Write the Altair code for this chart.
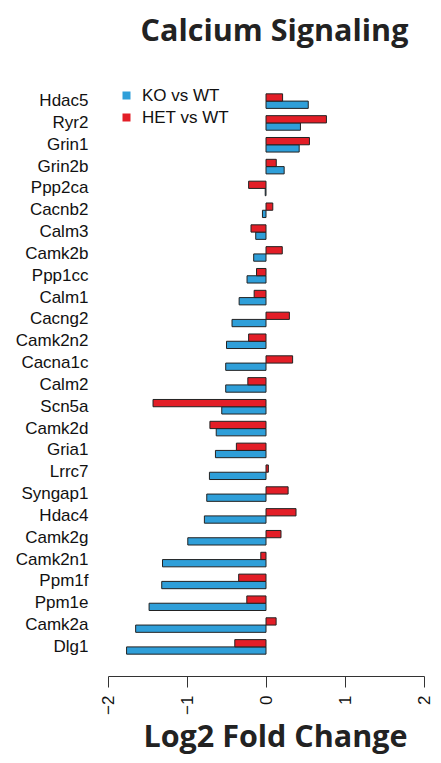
import altair as alt
import pandas as pd

genes = ["Hdac5", "Ryr2", "Grin1", "Grin2b", "Ppp2ca", "Cacnb2", "Calm3", "Camk2b",
         "Ppp1cc", "Calm1", "Cacng2", "Camk2n2", "Cacna1c", "Calm2", "Scn5a", "Camk2d",
         "Gria1", "Lrrc7", "Syngap1", "Hdac4", "Camk2g", "Camk2n1", "Ppm1f", "Ppm1e",
         "Camk2a", "Dlg1"]
ko_vs_wt = [0.535, 0.436, 0.42, 0.23, -0.01, -0.045, -0.13, -0.156,
            -0.24, -0.34, -0.43, -0.50, -0.51, -0.51, -0.56, -0.63,
            -0.64, -0.716, -0.75, -0.78, -0.99, -1.31, -1.32, -1.48,
            -1.65, -1.765]
het_vs_wt = [0.21, 0.765, 0.55, 0.13, -0.22, 0.086, -0.19, 0.206,
             -0.12, -0.15, 0.296, -0.22, 0.337, -0.23, -1.43, -0.71,
             -0.375, 0.03, 0.28, 0.38, 0.19, -0.066, -0.346, -0.243,
             0.128, -0.395]
series = ["KO vs WT", "HET vs WT"]
colors = ["#2F9FD9", "#E31E27"]
x_ticks = [-2, -1, 0, 1, 2]

rows = []
for g, k, h in zip(genes, ko_vs_wt, het_vs_wt):
    rows.append({"gene": g, "series": series[0], "value": k})
    rows.append({"gene": g, "series": series[1], "value": h})
df = pd.DataFrame(rows)

label_font = "Liberation Sans"
title_font = "Open Sans"

chart = alt.Chart(df).mark_bar(stroke="#222222", strokeWidth=1).encode(
    x=alt.X("value:Q",
            scale=alt.Scale(domain=[-2, 2], nice=False, zero=True),
            axis=alt.Axis(values=x_ticks, grid=False, title="Log2 Fold Change",
                          labelAngle=270, labelAlign="right", labelBaseline="middle",
                          labelFont=label_font, labelFontSize=17, labelColor="#111111",
                          labelPadding=8, tickSize=11, tickColor="#333333",
                          domainColor="#333333", titleFont=title_font, titleFontSize=30.5,
                          titleFontWeight="bold", titleColor="#222222",
                          titleBaseline="alphabetic", titleAlign="center",
                          titleX=167, titleY=70, format="d")),
    y=alt.Y("gene:N", sort=genes,
            scale=alt.Scale(paddingInner=1/3, paddingOuter=1),
            axis=alt.Axis(title="Calcium Signaling", titleAngle=0, titleX=166, titleY=-32,
                          titleAlign="center", titleBaseline="alphabetic",
                          titleFont=title_font, titleFontSize=30.5, titleFontWeight="bold",
                          titleColor="#222222",
                          domain=False, ticks=False, labelFont=label_font,
                          labelFontSize=17, labelColor="#111111", labelPadding=20)),
    yOffset=alt.YOffset("series:N", sort=["HET vs WT", "KO vs WT"],
                        scale=alt.Scale(paddingInner=0, paddingOuter=0)),
    color=alt.Color("series:N",
                    scale=alt.Scale(domain=series, range=colors),
                    legend=alt.Legend(title=None, orient="none", legendX=10, legendY=15,
                                      symbolType="square", symbolSize=64,
                                      symbolStrokeWidth=0, labelFont=label_font,
                                      labelFontSize=17, labelColor="#111111",
                                      labelOffset=7, rowPadding=4, padding=0)),
).properties(
    width=316,
    height=604,
    autosize=alt.AutoSizeParams(type="none"),
    padding={"left": 100, "top": 64, "right": 9, "bottom": 79},
).configure_view(strokeWidth=0)

chart.save("out.html", embed_options={"renderer": "svg", "actions": False})
